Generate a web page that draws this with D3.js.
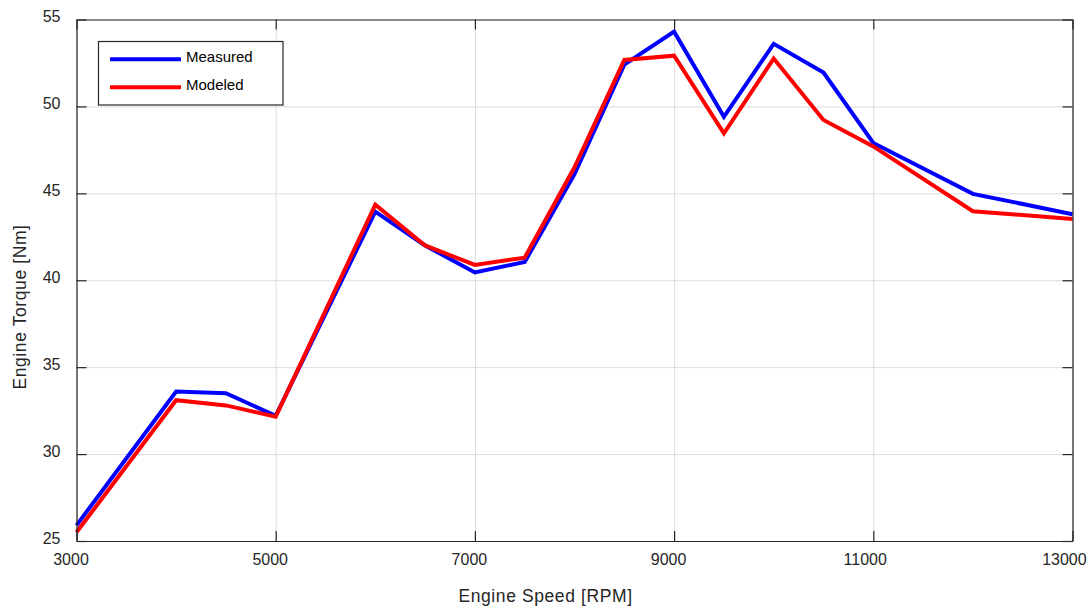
<!DOCTYPE html>
<html><head><meta charset="utf-8">
<script src="https://cdn.jsdelivr.net/npm/d3@7"></script>
<style>body{margin:0;background:#fff;} text{font-family:"Liberation Sans",Arial,sans-serif;}</style>
</head><body>
<svg id="c" width="1091" height="609"></svg>
<script>
const speeds = [3000,4000,4500,5000,6000,6500,7000,7500,8000,8500,9000,9500,10000,10500,11000,12000,13000];
const measured = [25.9,33.6,33.5,32.2,43.95,42.0,40.45,41.05,46.1,52.4,54.3,49.4,53.6,51.95,47.9,44.97,43.8];
const modeled  = [25.5,33.1,32.8,32.15,44.35,42.0,40.88,41.3,46.5,52.67,52.92,48.45,52.75,49.22,47.7,43.97,43.53];
const xTicks = [3000,5000,7000,9000,11000,13000];
const yTicks = [25,30,35,40,45,50,55];
const seriesNames = ["Measured","Modeled"];
const seriesColors = ["#0000ff","#ff0000"];

const svg = d3.select("#c");
const L=76.5, R=1072.5, T=19.5, B=541;
const x = d3.scaleLinear().domain([3000,13000]).range([L,R]);
const y = d3.scaleLinear().domain([25,55]).range([B,T]);
const W=R-L, H=B-T;
const axisCol="#262626";

// grid
svg.append("g").attr("transform",`translate(0,${B})`)
  .call(d3.axisBottom(x).tickValues(xTicks).tickSize(-H).tickFormat(""))
  .call(g=>{g.select(".domain").remove(); g.selectAll("line").attr("stroke","#dcdcdc");});
svg.append("g").attr("transform",`translate(${L},0)`)
  .call(d3.axisLeft(y).tickValues(yTicks).tickSize(-W).tickFormat(""))
  .call(g=>{g.select(".domain").remove(); g.selectAll("line").attr("stroke","#dcdcdc");});

// lines
const line = d3.line().x((d,i)=>x(speeds[i])).y(d=>y(d));
[measured,modeled].forEach((s,k)=>{
  svg.append("path").datum(s).attr("d",line).attr("fill","none")
    .attr("stroke",seriesColors[k]).attr("stroke-width",4).attr("stroke-linejoin","miter");
});

function styleAxis(g){
  g.select(".domain").attr("stroke",axisCol).attr("stroke-width",1.2);
  g.selectAll("line").attr("stroke",axisCol).attr("stroke-width",1.2);
  g.selectAll("text").attr("fill",axisCol).attr("font-size",16).attr("font-family","Liberation Sans, Arial, sans-serif");
}
svg.append("g").attr("transform",`translate(0,${B})`)
  .call(d3.axisBottom(x).tickValues(xTicks).tickSizeInner(-10).tickSizeOuter(0).tickPadding(13).tickFormat(d3.format("d")))
  .call(styleAxis)
  .call(g=>g.selectAll("text").attr("dx",d=>-6-(String(d).length-4)*2.6));
svg.append("g").attr("transform",`translate(0,${T})`)
  .call(d3.axisTop(x).tickValues(xTicks).tickSizeInner(-10).tickSizeOuter(0).tickFormat(""))
  .call(styleAxis);
svg.append("g").attr("transform",`translate(${L},0)`)
  .call(d3.axisLeft(y).tickValues(yTicks).tickSizeInner(-10).tickSizeOuter(0).tickPadding(16).tickFormat(d3.format("d")))
  .call(styleAxis)
  .call(g=>g.selectAll("text").attr("y",-3));
svg.append("g").attr("transform",`translate(${R},0)`)
  .call(d3.axisRight(y).tickValues(yTicks).tickSizeInner(-10).tickSizeOuter(0).tickFormat(""))
  .call(styleAxis);

// labels
svg.append("text").attr("x",545.5).attr("y",602.3).attr("text-anchor","middle")
  .attr("font-size",17.5).attr("letter-spacing",0.6).attr("fill",axisCol).text("Engine Speed [RPM]");
svg.append("text").attr("transform",`translate(25.6,307) rotate(-90)`).attr("text-anchor","middle")
  .attr("font-size",17.5).attr("letter-spacing",0.6).attr("fill",axisCol).text("Engine Torque [Nm]");

// legend
const lg = svg.append("g");
lg.append("rect").attr("x",98.5).attr("y",41.5).attr("width",184.5).attr("height",63.5)
  .attr("fill","#fff").attr("stroke",axisCol).attr("stroke-width",1.2);
seriesNames.forEach((n,k)=>{
  const yy = 59.3 + k*28;
  lg.append("line").attr("x1",110).attr("x2",181).attr("y1",yy).attr("y2",yy)
    .attr("stroke",seriesColors[k]).attr("stroke-width",4);
  lg.append("text").attr("x",186).attr("y",yy+2.4).attr("font-size",15).attr("fill","#000").text(n);
});
</script>
</body></html>
